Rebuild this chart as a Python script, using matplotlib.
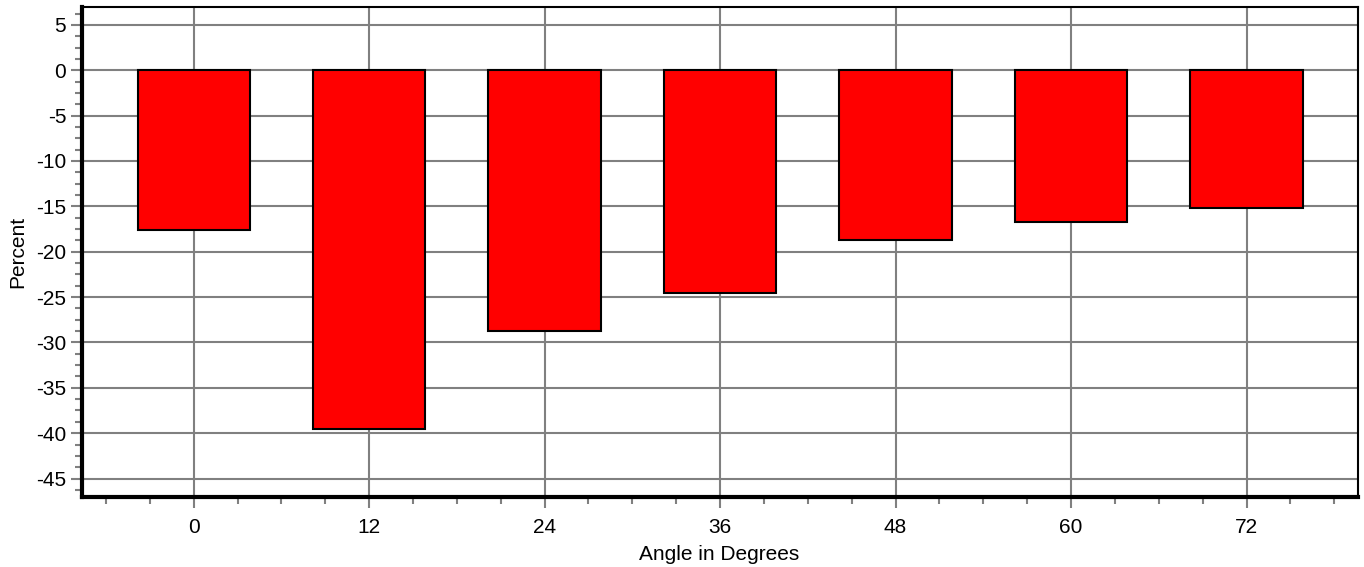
import numpy as np
import matplotlib.pyplot as plt
from matplotlib.ticker import MultipleLocator

# Percent change per angle
angles = [0, 12, 24, 36, 48, 60, 72]
percent = [-17.6, -39.5, -28.7, -24.5, -18.7, -16.7, -15.2]

plt.rcParams['font.family'] = ['Liberation Sans', 'DejaVu Sans']
plt.rcParams['axes.unicode_minus'] = False

fig = plt.figure(figsize=(13.64, 5.67), dpi=100)
ax = fig.add_axes([81.5 / 1364, 1 - 496.7 / 567, (1357.7 - 81.5) / 1364, (496.7 - 6.7) / 567])

ax.bar(angles, percent, width=7.68, color='#ff0000', edgecolor='black', linewidth=1.5, zorder=3)

ax.set_xlim(-7.67, 79.6)
ax.set_ylim(-47, 7)
ax.xaxis.set_major_locator(MultipleLocator(12))
ax.xaxis.set_minor_locator(MultipleLocator(3))
ax.yaxis.set_major_locator(MultipleLocator(5))
ax.yaxis.set_minor_locator(MultipleLocator(1.25))

ax.grid(which='major', color='#808080', linewidth=1.5, zorder=0)
ax.set_axisbelow(True)

ax.tick_params(which='major', direction='out', length=8, width=1.5, color='#808080', labelsize=15)
ax.tick_params(which='minor', direction='out', length=5, width=1.5, color='#808080')
ax.tick_params(axis='x', pad=7)
ax.tick_params(axis='y', pad=3)

for side in ['left', 'bottom']:
    ax.spines[side].set_linewidth(3)
    ax.spines[side].set_color('black')
for side in ['top', 'right']:
    ax.spines[side].set_linewidth(1.5)
    ax.spines[side].set_color('black')

ax.set_xlabel('Angle in Degrees', fontsize=15, labelpad=6)
ax.set_ylabel('Percent', fontsize=15, labelpad=6)

plt.savefig('out.png', dpi=100)
